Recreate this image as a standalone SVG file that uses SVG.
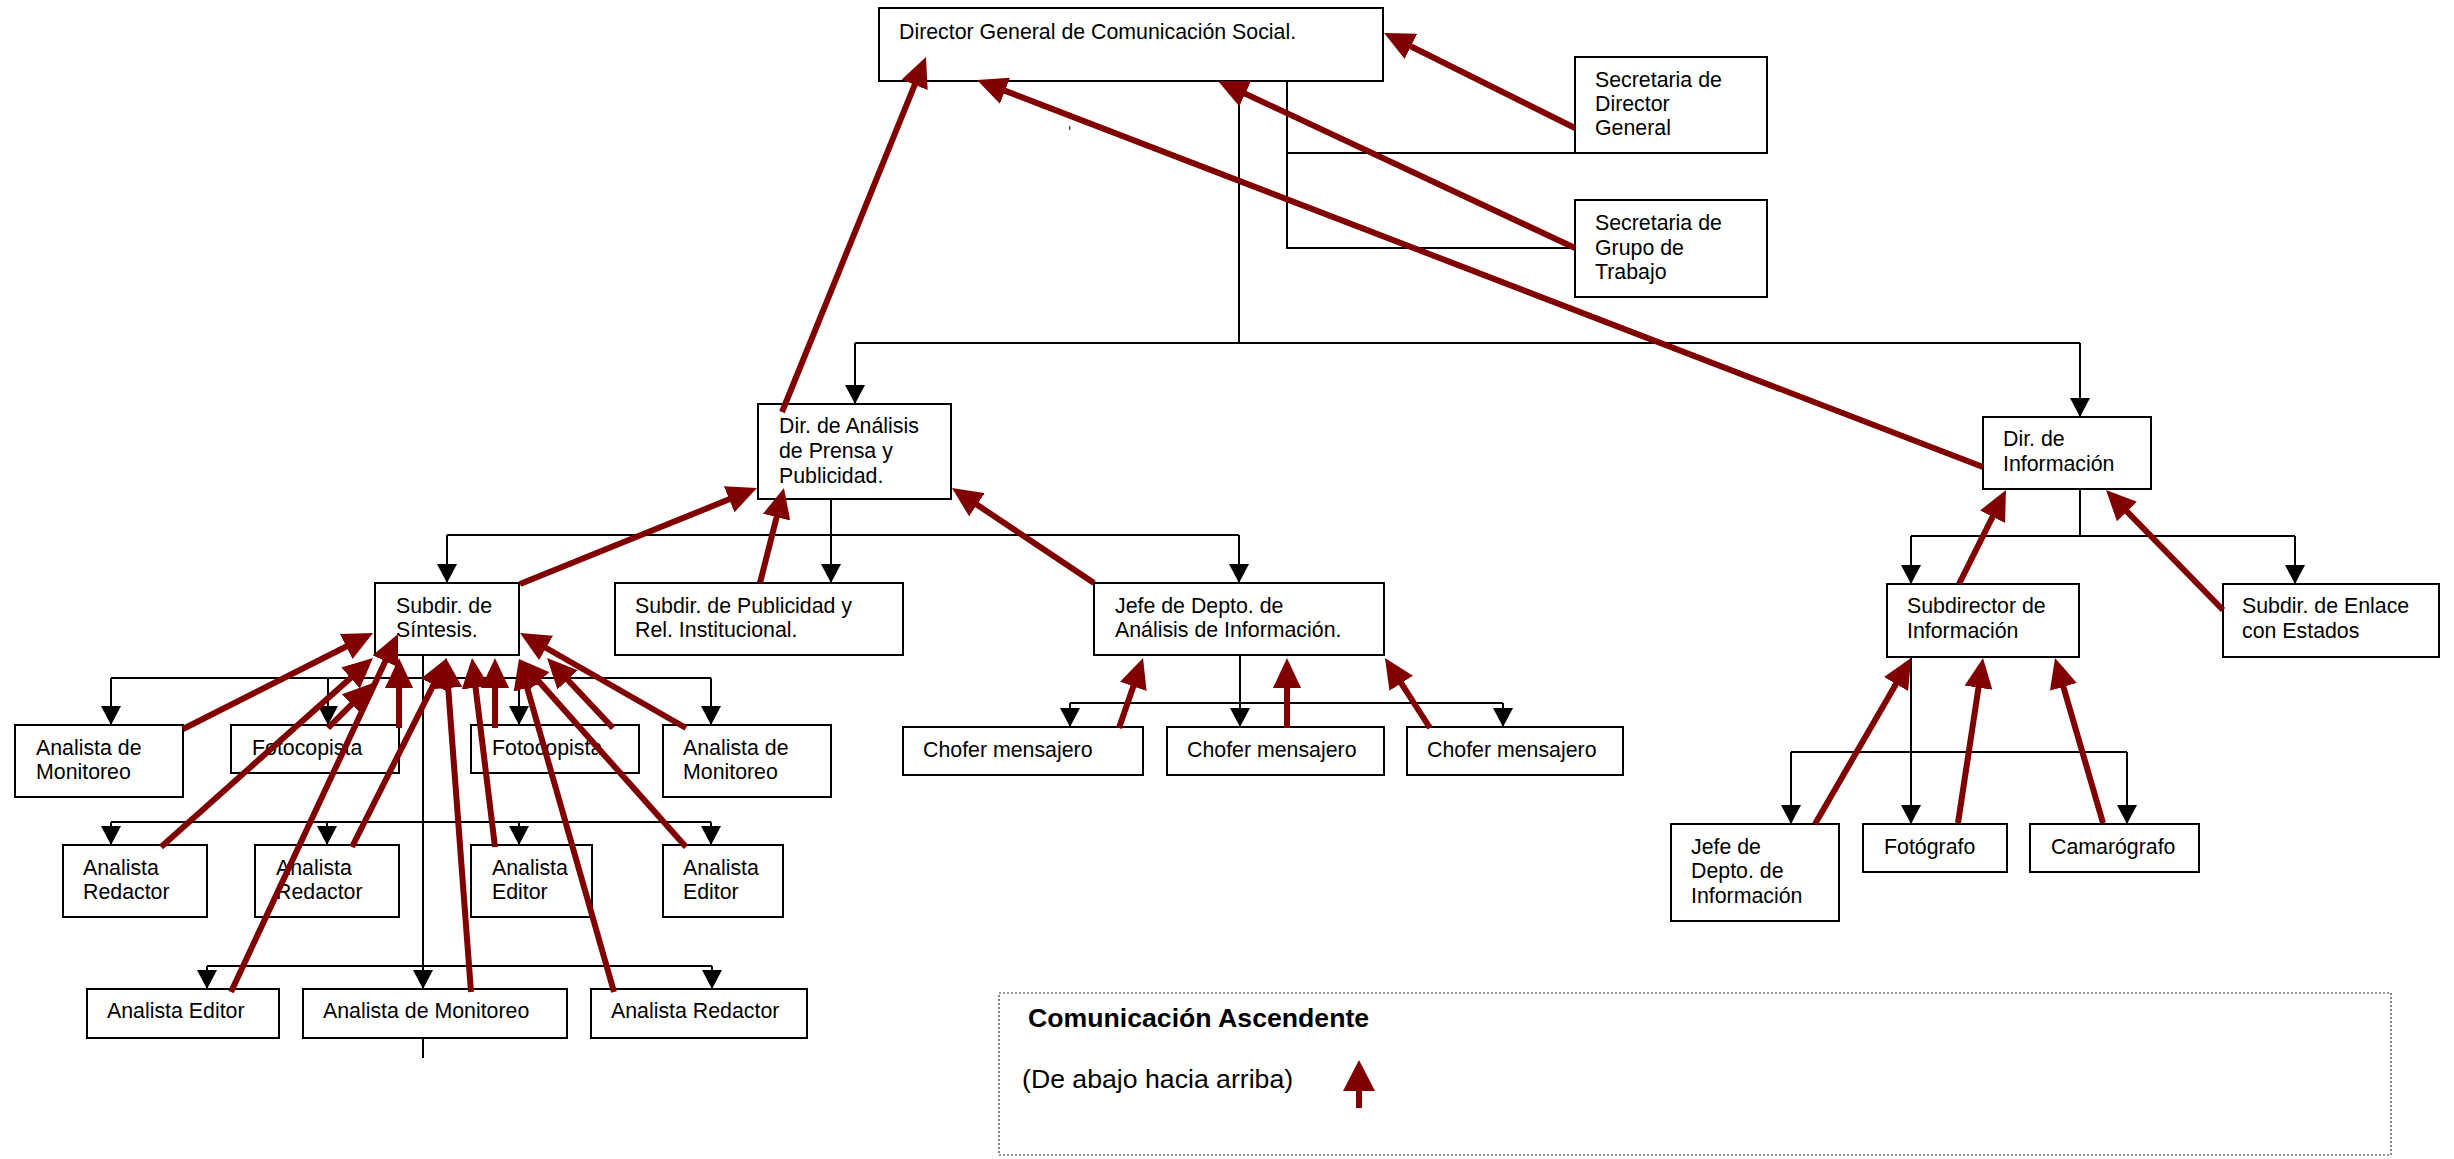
<svg xmlns="http://www.w3.org/2000/svg" width="2454" height="1159" viewBox="0 0 2454 1159">
<style>
.box{fill:#fff;stroke:#000;stroke-width:2}
.t{font-family:"Liberation Sans",Arial,sans-serif;font-size:21.33px;fill:#000}
.lg{font-family:"Liberation Sans",Arial,sans-serif;font-size:26.67px;fill:#000}
.b{font-weight:bold}
.k{fill:none;stroke:#000;stroke-width:2}
.ka{fill:none;stroke:#000;stroke-width:2;marker-end:url(#ah)}
.r{fill:none;stroke:#800000;stroke-width:6;marker-end:url(#rh)}
</style>
<defs>
<marker id="ah" markerUnits="userSpaceOnUse" markerWidth="19" markerHeight="20" refX="19" refY="10" orient="auto" viewBox="0 0 19 20"><path d="M0,0 L19,10 L0,20 z" fill="#000"/></marker>
<marker id="rh" markerUnits="userSpaceOnUse" markerWidth="30" markerHeight="28" refX="20" refY="14" orient="auto" viewBox="0 0 30 28"><path d="M0,0 L30,14 L0,28 z" fill="#800000"/></marker>
</defs>
<rect width="2454" height="1159" fill="#fff"/>

<g id="tree-connectors">
<path class="k" d="M1239,81 V343 M855,343 H2080"/>
<path class="ka" d="M855,343 V404"/>
<path class="ka" d="M2080,343 V417"/>
<path class="k" d="M1287,81 V248 H1575 M1287,153 H1575"/>
<path class="k" d="M831,499 V535 M447,535 H1239"/>
<path class="ka" d="M447,535 V583"/>
<path class="ka" d="M831,535 V583"/>
<path class="ka" d="M1239,535 V583"/>
<path class="k" d="M423,655 V966 M111,678 H711 M111,822 H711 M207,966 H712 M423,1038 V1058"/>
<path class="ka" d="M111,678 V725"/>
<path class="ka" d="M328,678 V725"/>
<path class="ka" d="M519,678 V725"/>
<path class="ka" d="M711,678 V725"/>
<path class="ka" d="M111,822 V845"/>
<path class="ka" d="M327,822 V845"/>
<path class="ka" d="M519,822 V845"/>
<path class="ka" d="M711,822 V845"/>
<path class="ka" d="M207,966 V989"/>
<path class="ka" d="M423,966 V989"/>
<path class="ka" d="M712,966 V989"/>
<path class="k" d="M1240,655 V703 M1070,703 H1503"/>
<path class="ka" d="M1240,703 V727"/>
<path class="ka" d="M1070,703 V727"/>
<path class="ka" d="M1503,703 V727"/>
<path class="k" d="M2080,489 V536 M1911,536 H2295"/>
<path class="ka" d="M1911,536 V584"/>
<path class="ka" d="M2295,536 V584"/>
<path class="k" d="M1911,657 V752 M1791,752 H2127"/>
<path class="ka" d="M1911,752 V824"/>
<path class="ka" d="M1791,752 V824"/>
<path class="ka" d="M2127,752 V824"/>
<rect x="1069" y="126" width="1.5" height="4" fill="#555"/>
</g>

<g id="n-director"><rect class="box" x="879" y="8" width="504" height="73"/><text class="t" x="899" y="39">Director General de Comunicación Social.</text></g>
<g id="n-sec-dg"><rect class="box" x="1575" y="57" width="192" height="96"/><text class="t" x="1595" y="87">Secretaria de</text><text class="t" x="1595" y="111">Director</text><text class="t" x="1595" y="135">General</text></g>
<g id="n-sec-gt"><rect class="box" x="1575" y="200" width="192" height="97"/><text class="t" x="1595" y="230">Secretaria de</text><text class="t" x="1595" y="255">Grupo de</text><text class="t" x="1595" y="279">Trabajo</text></g>
<g id="n-dir-analisis"><rect class="box" x="758" y="404" width="193" height="95"/><text class="t" x="779" y="433">Dir. de Análisis</text><text class="t" x="779" y="458">de Prensa y</text><text class="t" x="779" y="483">Publicidad.</text></g>
<g id="n-dir-info"><rect class="box" x="1983" y="417" width="168" height="72"/><text class="t" x="2003" y="446">Dir. de</text><text class="t" x="2003" y="471">Información</text></g>
<g id="n-sintesis"><rect class="box" x="375" y="583" width="144" height="72"/><text class="t" x="396" y="613">Subdir. de</text><text class="t" x="396" y="637">Síntesis.</text></g>
<g id="n-publicidad"><rect class="box" x="615" y="583" width="288" height="72"/><text class="t" x="635" y="613">Subdir. de Publicidad y</text><text class="t" x="635" y="637">Rel. Institucional.</text></g>
<g id="n-jefe-analisis"><rect class="box" x="1094" y="583" width="290" height="72"/><text class="t" x="1115" y="613">Jefe de Depto. de</text><text class="t" x="1115" y="637">Análisis de Información.</text></g>
<g id="n-subdir-info"><rect class="box" x="1887" y="584" width="192" height="73"/><text class="t" x="1907" y="613">Subdirector de</text><text class="t" x="1907" y="638">Información</text></g>
<g id="n-enlace"><rect class="box" x="2223" y="584" width="216" height="73"/><text class="t" x="2242" y="613">Subdir. de Enlace</text><text class="t" x="2242" y="638">con Estados</text></g>
<g id="n-chofer1"><rect class="box" x="903" y="727" width="240" height="48"/><text class="t" x="923" y="757">Chofer mensajero</text></g>
<g id="n-chofer2"><rect class="box" x="1167" y="727" width="217" height="48"/><text class="t" x="1187" y="757">Chofer mensajero</text></g>
<g id="n-chofer3"><rect class="box" x="1407" y="727" width="216" height="48"/><text class="t" x="1427" y="757">Chofer mensajero</text></g>
<g id="n-monitoreo-1"><rect class="box" x="15" y="725" width="168" height="72"/><text class="t" x="36" y="755">Analista de</text><text class="t" x="36" y="779">Monitoreo</text></g>
<g id="n-fotocopista-1"><rect class="box" x="231" y="725" width="168" height="48"/><text class="t" x="252" y="755">Fotocopista</text></g>
<g id="n-fotocopista-2"><rect class="box" x="471" y="725" width="168" height="48"/><text class="t" x="492" y="755">Fotocopista</text></g>
<g id="n-monitoreo-2"><rect class="box" x="663" y="725" width="168" height="72"/><text class="t" x="683" y="755">Analista de</text><text class="t" x="683" y="779">Monitoreo</text></g>
<g id="n-redactor-1"><rect class="box" x="63" y="845" width="144" height="72"/><text class="t" x="83" y="875">Analista</text><text class="t" x="83" y="899">Redactor</text></g>
<g id="n-redactor-2"><rect class="box" x="255" y="845" width="144" height="72"/><text class="t" x="276" y="875">Analista</text><text class="t" x="276" y="899">Redactor</text></g>
<g id="n-editor-1"><rect class="box" x="471" y="845" width="121" height="72"/><text class="t" x="492" y="875">Analista</text><text class="t" x="492" y="899">Editor</text></g>
<g id="n-editor-2"><rect class="box" x="663" y="845" width="120" height="72"/><text class="t" x="683" y="875">Analista</text><text class="t" x="683" y="899">Editor</text></g>
<g id="n-editor-3"><rect class="box" x="87" y="989" width="192" height="49"/><text class="t" x="107" y="1018">Analista Editor</text></g>
<g id="n-monitoreo-3"><rect class="box" x="303" y="989" width="264" height="49"/><text class="t" x="323" y="1018">Analista de Monitoreo</text></g>
<g id="n-redactor-3"><rect class="box" x="591" y="989" width="216" height="49"/><text class="t" x="611" y="1018">Analista Redactor</text></g>
<g id="n-jefe-info"><rect class="box" x="1671" y="824" width="168" height="97"/><text class="t" x="1691" y="854">Jefe de</text><text class="t" x="1691" y="878">Depto. de</text><text class="t" x="1691" y="903">Información</text></g>
<g id="n-fotografo"><rect class="box" x="1863" y="824" width="144" height="48"/><text class="t" x="1884" y="854">Fotógrafo</text></g>
<g id="n-camarografo"><rect class="box" x="2030" y="824" width="169" height="48"/><text class="t" x="2051" y="854">Camarógrafo</text></g>

<g id="upward-connectors">
<line class="r" x1="1575" y1="128" x2="1393" y2="37.5"/>
<line class="r" x1="1575" y1="248" x2="1227.1" y2="85.2"/>
<line class="r" x1="1983" y1="467" x2="986.3" y2="83.6"/>
<line class="r" x1="782" y1="412" x2="922.2" y2="66.3"/>
<line class="r" x1="520" y1="584" x2="747.7" y2="491.8"/>
<line class="r" x1="760" y1="583" x2="781.5" y2="497.7"/>
<line class="r" x1="1094" y1="583" x2="960.3" y2="493.6"/>
<line class="r" x1="1119" y1="728" x2="1139.8" y2="667.5"/>
<line class="r" x1="1287" y1="728" x2="1287" y2="668"/>
<line class="r" x1="1430" y1="728" x2="1390.4" y2="666.4"/>
<line class="r" x1="1959" y1="584" x2="2001.5" y2="498.9"/>
<line class="r" x1="2223" y1="610" x2="2113" y2="497.2"/>
<line class="r" x1="1815" y1="824" x2="1906" y2="666.7"/>
<line class="r" x1="1958" y1="823" x2="1981.5" y2="667.9"/>
<line class="r" x1="2103" y1="823" x2="2057.8" y2="667.6"/>
<line class="r" x1="183" y1="729" x2="364.1" y2="637.5"/>
<line class="r" x1="328" y1="728" x2="365.9" y2="690.1"/>
<line class="r" x1="399" y1="728" x2="399" y2="668"/>
<line class="r" x1="161" y1="847" x2="365.5" y2="664.7"/>
<line class="r" x1="352" y1="847" x2="442.5" y2="666.9"/>
<line class="r" x1="495" y1="847" x2="473.2" y2="667.9"/>
<line class="r" x1="686" y1="847" x2="525.6" y2="666.5"/>
<line class="r" x1="495" y1="728" x2="495" y2="668"/>
<line class="r" x1="613" y1="728" x2="553.9" y2="665.3"/>
<line class="r" x1="686" y1="728" x2="528.7" y2="638"/>
<line class="r" x1="231" y1="992" x2="393.8" y2="643.1"/>
<line class="r" x1="471" y1="992" x2="446.7" y2="668"/>
<line class="r" x1="614" y1="992" x2="521.7" y2="668.6"/>
</g>

<g id="legend">
<rect x="999" y="993" width="1392" height="162" fill="none" stroke="#333" stroke-width="1.2" stroke-dasharray="2 2"/>
<text class="lg b" x="1028" y="1027">Comunicación Ascendente</text>
<text class="lg" x="1022" y="1088">(De abajo hacia arriba)</text>
<rect x="1356" y="1088" width="6" height="20" fill="#800000"/>
<polygon points="1359,1060 1375,1091 1343,1091" fill="#800000"/>
</g>
</svg>
